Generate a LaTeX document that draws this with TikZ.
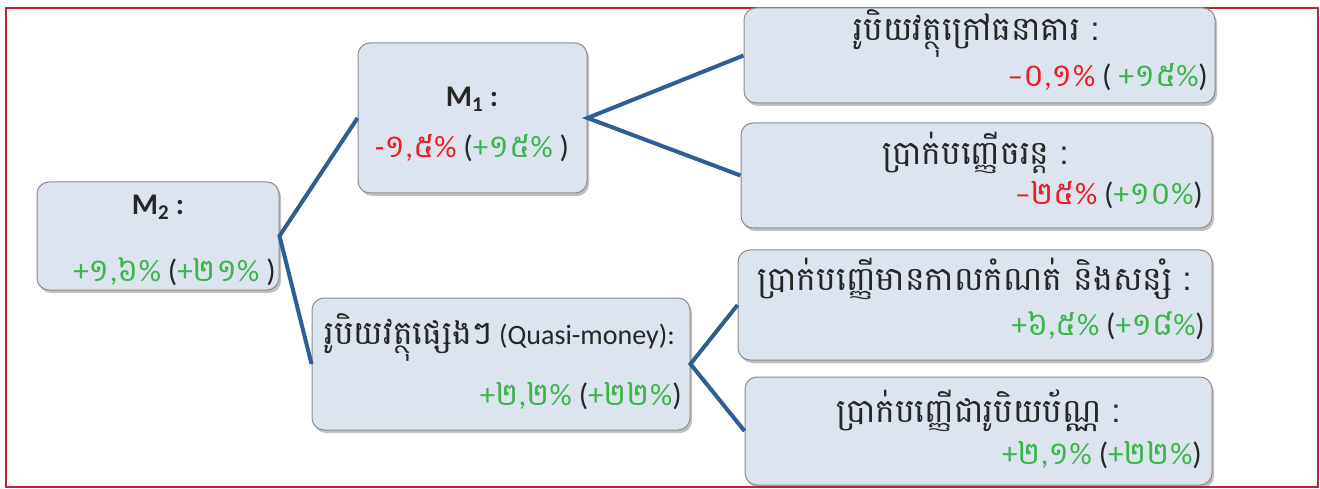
\documentclass[tikz,border=0pt]{standalone}
\usepackage{fontspec}
\setmainfont{Carlito}
\newfontfamily\km[Script=Khmer]{Battambang}
\usetikzlibrary{shadows}
\definecolor{kred}{RGB}{237,28,36}
\definecolor{kgreen}{RGB}{57,181,74}
\definecolor{ktext}{RGB}{38,38,38}
\definecolor{boxfill}{RGB}{220,228,239}
\definecolor{boxline}{RGB}{140,140,140}
\definecolor{conn}{RGB}{47,94,150}
\definecolor{frame}{RGB}{200,32,46}
\newcommand\kd[1]{{\km\fontsize{32}{34}\selectfont #1}}
\newcommand\kt[1]{{\km\fontsize{33}{36}\selectfont #1}}
\tikzset{
  boxnode/.style={draw=boxline, line width=1pt, fill=boxfill, rounded corners=12pt, inner sep=0pt,
    drop shadow={shadow xshift=2pt, shadow yshift=-3pt, opacity=0.35, fill=black!70}},
  connector/.style={draw=conn, line width=4pt},
  titletext/.style={font=\fontsize{28}{30}\selectfont, text=ktext, inner sep=0pt},
  numtext/.style={font=\fontsize{31}{33}\selectfont, text=ktext, inner sep=0pt},
  mtext/.style={font=\fontsize{30}{32}\selectfont\bfseries, text=ktext, inner sep=0pt}
}
\begin{document}
\begin{tikzpicture}[x=1pt, y=-1pt]
\useasboundingbox (0,0) rectangle (1320,489);
\fill[white] (0,0) rectangle (1320,489);
\draw[frame, line width=2pt] (6,8) rectangle (1318,487);
% boxes
\node[boxnode, minimum width=242pt, minimum height=108pt] (m2) at (158,236) {};
\node[boxnode, minimum width=229pt, minimum height=150pt] (m1) at (472.5,118) {};
\node[boxnode, minimum width=378pt, minimum height=132pt] (q) at (501,364) {};
\node[boxnode, minimum width=471pt, minimum height=95pt] (a) at (979.5,55.5) {};
\node[boxnode, minimum width=471pt, minimum height=105pt] (b) at (976.5,175.5) {};
\node[boxnode, minimum width=474pt, minimum height=110pt] (c) at (975,305) {};
\node[boxnode, minimum width=467pt, minimum height=108pt] (d) at (978.5,431) {};
% connectors
\draw[connector] (m1.west) -- (m2.east) -- (q.west);
\draw[connector] (a.west) -- (m1.east) -- (b.west);
\draw[connector] (c.west) -- (q.east) -- (d.west);
% texts
\node[mtext] (m2t) at (158,207) {M\textsubscript{2} :};
\node[numtext, anchor=east] (m2n) at (276,272) {\textcolor{kgreen}{+\kd{១},\kd{៦}\%} (\textcolor{kgreen}{+\kd{២១}\%} )};
\node[mtext] (m1t) at (472,99) {M\textsubscript{1} :};
\node[numtext] (m1n) at (472,148) {\textcolor{kred}{-\kd{១},\kd{៥}\%} (\textcolor{kgreen}{+\kd{១៥}\%} )};
\node[titletext] (at) at (976,33) {\kt{រូបិយវត្ថុក្រៅធនាគារ :}};
\node[numtext, anchor=east] (an) at (1208,77) {\textcolor{kred}{\textendash\kd{០},\kd{១}\%} ( \textcolor{kgreen}{+\kd{១៥}\%})};
\node[titletext] (bt) at (975,153) {\kt{ប្រាក់បញ្ញើចរន្ត :}};
\node[numtext, anchor=east] (bn) at (1203,195) {\textcolor{kred}{\textendash\kd{២៥}\%} (\textcolor{kgreen}{+\kd{១០}\%})};
\node[titletext] (ct) at (974,279) {\kt{ប្រាក់បញ្ញើមានកាលកំណត់ និងសន្សំ :}};
\node[numtext, anchor=east] (cn) at (1205,326) {\textcolor{kgreen}{+\kd{៦},\kd{៥}\%} (\textcolor{kgreen}{+\kd{១៨}\%})};
\node[titletext] (dt) at (978,411) {\kt{ប្រាក់បញ្ញើជារូបិយប័ណ្ណ :}};
\node[numtext, anchor=east] (dn) at (1202,455) {\textcolor{kgreen}{+\kd{២},\kd{១}\%} (\textcolor{kgreen}{+\kd{២២}\%})};
\node[titletext, anchor=west] (qt) at (324,337) {\kt{រូបិយវត្ថុផ្សេងៗ} (Quasi-money):};
\node[numtext, anchor=east] (qn) at (682,396) {\textcolor{kgreen}{+\kd{២},\kd{២}\%} (\textcolor{kgreen}{+\kd{២២}\%})};
\end{tikzpicture}
\end{document}
